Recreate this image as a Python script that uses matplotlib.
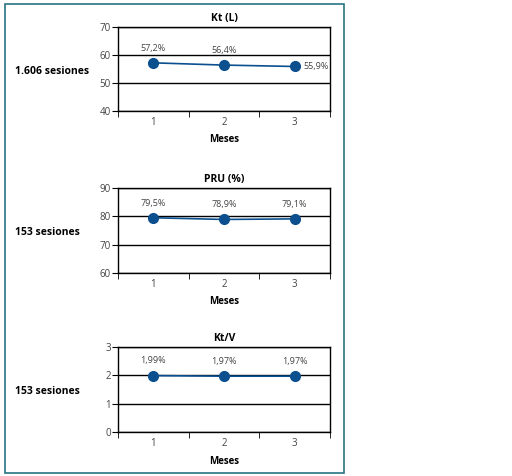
import matplotlib.pyplot as plt
from matplotlib.patches import Rectangle

meses = [1, 2, 3]

kt_vals = [57.2, 56.4, 55.9]
kt_labels = ["57,2%", "56,4%", "55,9%"]

pru_vals = [79.5, 78.9, 79.1]
pru_labels = ["79,5%", "78,9%", "79,1%"]

ktv_vals = [1.99, 1.97, 1.97]
ktv_labels = ["1,99%", "1,97%", "1,97%"]

W, H = 512, 476
fig = plt.figure(figsize=(W / 100, H / 100), dpi=100)
plt.rcParams['font.family'] = ['Open Sans', 'DejaVu Sans']

# marco exterior
fig.patches.append(Rectangle((5 / W, 1 - 473 / H), 339 / W, 469 / H,
                             transform=fig.transFigure, fill=False,
                             edgecolor="#2a7383", lw=1.2))

paneles = [
    # titulo, valores, etiquetas, ylim, yticks, sesiones, top, bottom, posicion etiqueta ultimo punto
    ("Kt (L)", kt_vals, kt_labels, (40, 70), [40, 50, 60, 70], "1.606 sesiones", 27, 111, "right"),
    ("PRU (%)", pru_vals, pru_labels, (60, 90), [60, 70, 80, 90], "153 sesiones", 188, 273, "above"),
    ("Kt/V", ktv_vals, ktv_labels, (0, 3), [0, 1, 2, 3], "153 sesiones", 347, 432, "above"),
]

left, right = 118, 330
azul = "#0b4f8f"

for titulo, vals, labs, ylim, yt, ses, top, bot, pos in paneles:
    ax = fig.add_axes([left / W, 1 - bot / H, (right - left) / W, (bot - top) / H])
    ax.plot(meses, vals, color=azul, lw=1.2, marker="o", ms=7, mec=azul, mfc=azul, zorder=3)
    ax.set_xlim(0.5, 3.5)
    ax.set_ylim(*ylim)
    ax.set_yticks(yt)
    ax.set_xticks(meses)
    ax.set_xticks([0.5, 1.5, 2.5, 3.5], minor=True)
    ax.tick_params(axis="x", which="major", length=0, labelsize=7, colors="#444444", pad=4)
    ax.tick_params(axis="x", which="minor", length=4, direction="out", color="black")
    ax.tick_params(axis="y", length=4, direction="out", labelsize=7, colors="#444444", pad=1)
    ax.tick_params(axis="y", color="black")
    ax.yaxis.grid(True, color="black", lw=1)
    for s in ax.spines.values():
        s.set_color("black")
        s.set_linewidth(1)
    ax.set_title(titulo, fontsize=7.5, fontweight="bold", pad=4)
    ax.set_xlabel("Meses", fontsize=7, fontweight="bold", labelpad=5)
    rng = ylim[1] - ylim[0]
    for i, (x, v, t) in enumerate(zip(meses, vals, labs)):
        if i == 2 and pos == "right":
            ax.text(x + 0.12, v, t, fontsize=6.5, color="#444444", va="center", ha="left")
        else:
            ax.text(x, v + rng * 0.12, t, fontsize=6.5, color="#444444", va="bottom", ha="center")
    mid = (top + bot) / 2 + 2
    fig.text(15 / W, 1 - mid / H, ses, fontsize=7.5, fontweight="bold", va="center", ha="left")

fig.savefig("out.png", dpi=100)
